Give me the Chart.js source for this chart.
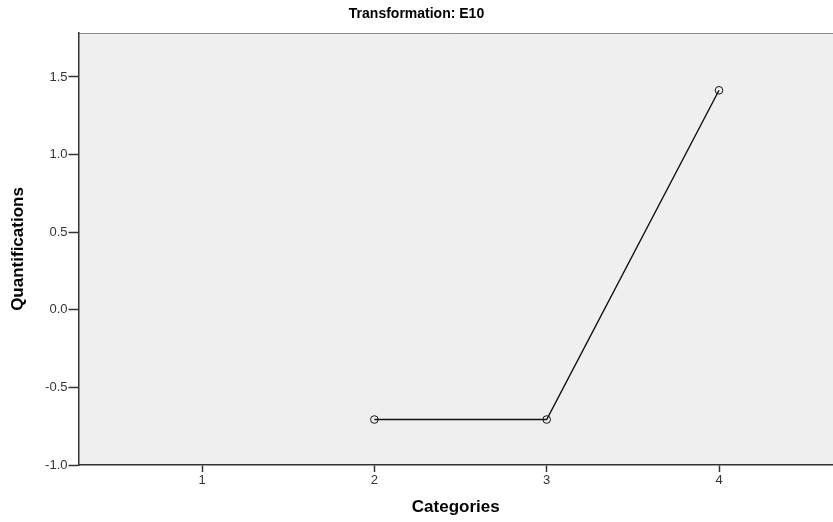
<!DOCTYPE html>
<html>
<head>
<meta charset="utf-8">
<script src="https://cdn.jsdelivr.net/npm/chart.js@4/dist/chart.umd.min.js"></script>
<style>
  html, body { margin: 0; padding: 0; background: #ffffff; overflow: hidden; }
  #wrap { width: 833px; height: 522px; }
</style>
</head>
<body>
<div id="wrap"><canvas id="c" width="833" height="522"></canvas></div>
<script>
// Transformation plot for variable E10
const categories = [1, 2, 3, 4];
const quantifications = [null, -0.707, -0.707, 1.414];
const yTicks = [-1.0, -0.5, 0.0, 0.5, 1.0, 1.5];

const FONT = '"Liberation Sans", Arial, sans-serif';

const points = categories.map((c, i) => ({ x: c, y: quantifications[i] }));

// Grey plot panel with a thin top border
const panel = {
  id: 'panel',
  beforeDraw(chart) {
    const { ctx, chartArea: a } = chart;
    ctx.save();
    ctx.fillStyle = '#efefef';
    ctx.fillRect(a.left, a.top, a.right - a.left, a.bottom - a.top);
    ctx.strokeStyle = '#8a8a8a';
    ctx.lineWidth = 1;
    ctx.beginPath();
    ctx.moveTo(a.left, a.top + 0.5);
    ctx.lineTo(a.right, a.top + 0.5);
    ctx.stroke();
    ctx.restore();
  }
};

function noEdgePadding(s) {
  s.paddingLeft = 0; s.paddingRight = 0; s.paddingTop = 0; s.paddingBottom = 0;
}

new Chart(document.getElementById('c'), {
  type: 'line',
  data: {
    datasets: [{
      data: points,
      borderColor: '#111111',
      borderWidth: 1.4,
      pointRadius: 3.8,
      pointHoverRadius: 3.8,
      pointBackgroundColor: 'rgba(0,0,0,0)',
      pointBorderColor: '#111111',
      pointBorderWidth: 1,
      spanGaps: false,
      tension: 0
    }]
  },
  options: {
    responsive: false,
    animation: false,
    layout: { padding: 0, autoPadding: false },
    plugins: {
      legend: { display: false },
      tooltip: { enabled: false },
      title: {
        display: true,
        text: 'Transformation: E10',
        color: '#000000',
        font: { family: FONT, size: 14, weight: 'bold' },
        padding: { top: 6, bottom: 10.2 }
      }
    },
    scales: {
      x: {
        type: 'linear',
        min: 0.283,
        max: 4.6615,
        afterBuildTicks(s) { s.ticks = categories.map(v => ({ value: v })); },
        afterFit(s) { s.height = 57; noEdgePadding(s); },
        ticks: {
          color: '#333333',
          font: { family: FONT, size: 13 },
          padding: 1,
          callback: v => String(v)
        },
        grid: { drawOnChartArea: false, drawTicks: true, tickLength: 7, tickColor: '#333333', tickWidth: 1.5 },
        border: { display: true, color: '#333333', width: 1.5 },
        title: {
          display: true,
          text: 'Categories',
          color: '#000000',
          font: { family: FONT, size: 17, weight: 'bold' },
          padding: { top: 4, bottom: 4 }
        }
      },
      y: {
        type: 'linear',
        min: -1.0,
        max: 1.783,
        afterBuildTicks(s) { s.ticks = yTicks.map(v => ({ value: v })); },
        afterFit(s) { s.width = 78.5; noEdgePadding(s); },
        ticks: {
          color: '#333333',
          font: { family: FONT, size: 13 },
          padding: 1,
          callback: v => v.toFixed(1)
        },
        grid: { drawOnChartArea: false, drawTicks: true, tickLength: 10, tickColor: '#333333', tickWidth: 1.5 },
        border: { display: true, color: '#333333', width: 1.5 },
        title: {
          display: true,
          text: 'Quantifications',
          color: '#000000',
          font: { family: FONT, size: 17, weight: 'bold' },
          padding: { top: 8, bottom: 0 }
        }
      }
    }
  },
  plugins: [panel]
});
</script>
</body>
</html>
